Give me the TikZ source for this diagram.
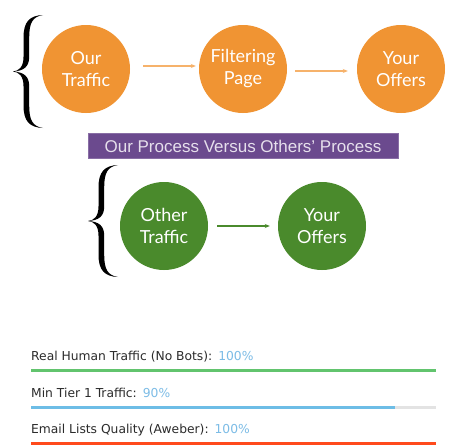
\documentclass[tikz,border=0pt]{standalone}
\usepackage{fontspec}
\setmainfont{Lato}
\newfontfamily\barfont{DejaVu Sans}
\newfontfamily\banfont{Liberation Sans}
\usetikzlibrary{arrows.meta}
\definecolor{orangec}{HTML}{F09433}
\definecolor{orangearr}{HTML}{F6B26B}
\definecolor{greenc}{HTML}{4A8A2C}
\definecolor{purpleb}{HTML}{6B4A8E}
\definecolor{bantext}{HTML}{E6DFEC}
\definecolor{bargreen}{HTML}{62C46E}
\definecolor{barblue}{HTML}{6DBDE6}
\definecolor{bargray}{HTML}{E3E3E3}
\definecolor{barred}{HTML}{FF4A1C}
\definecolor{pct}{HTML}{7CBCE6}
\definecolor{bartext}{HTML}{2B2B2B}
\tikzset{
  circ/.style={circle, minimum size=88pt, inner sep=0pt, text=white, align=center, font=\fontsize{18}{22}\selectfont},
  ocirc/.style={circ, fill=orangec},
  gcirc/.style={circ, fill=greenc},
  oarrow/.style={draw=orangearr, line width=1.2pt, -{Stealth[length=5pt,width=4pt]}},
  garrow/.style={draw=greenc, line width=1.2pt, -{Stealth[length=5pt,width=4pt]}},
  lbl/.style={anchor=base west, inner sep=0pt, font=\barfont\fontsize{12.3}{14}\selectfont, text=bartext},
  bar/.style={line width=3pt},
  bracefill/.style={fill=black},
}
% unit brace: x in [0,1] (0 = middle point, 1 = tips), y in [0,1] downwards
\newcommand{\mybrace}{%
  (1,0) .. controls (0.55,0.005) and (0.35,0.06) .. (0.35,0.2)
  -- (0.35,0.37)
  .. controls (0.35,0.46) and (0.2,0.495) .. (0,0.5)
  .. controls (0.2,0.505) and (0.35,0.54) .. (0.35,0.63)
  -- (0.35,0.8)
  .. controls (0.35,0.94) and (0.55,0.995) .. (1,1)
  .. controls (0.65,0.985) and (0.54,0.93) .. (0.54,0.8)
  -- (0.54,0.63)
  .. controls (0.54,0.54) and (0.35,0.505) .. (0,0.5)
  .. controls (0.35,0.495) and (0.54,0.46) .. (0.54,0.37)
  -- (0.54,0.2)
  .. controls (0.54,0.07) and (0.65,0.015) .. (1,0) -- cycle}
\begin{document}
\begin{tikzpicture}[x=1pt,y=-1pt]
\useasboundingbox[fill=white] (0,0) rectangle (462,447);
% top row
\node[ocirc] (o1) at (86,69) {Our\\Traffic};
\node[ocirc] (o2) at (243,69) {Filtering\\Page};
\node[ocirc] (o3) at (401,69) {Your\\Offers};
\draw[oarrow] ([xshift=13pt,yshift=3pt]o1.east) -- ([xshift=-3pt,yshift=3pt]o2.west);
\draw[oarrow] ([xshift=8pt,yshift=-2pt]o2.east) -- ([xshift=-9pt,yshift=-2pt]o3.west);
\begin{scope}[shift={(13,15)}, xscale=30, yscale=113]
  \fill[bracefill] \mybrace;
\end{scope}
% banner
\node[fill=purpleb, draw=purpleb!80!white, line width=0.6pt, minimum width=310pt, minimum height=25pt, inner sep=0pt, text=bantext, font=\banfont\fontsize{17}{19}\selectfont] (ban) at (243,146) {Our Process Versus Others’ Process};
% second row
\node[gcirc] (g1) at (164,226) {Other\\Traffic};
\node[gcirc] (g2) at (322,226) {Your\\Offers};
\draw[garrow] ([xshift=9pt]g1.east) -- ([xshift=-8pt]g2.west);
\begin{scope}[shift={(88,165)}, xscale=30, yscale=112]
  \fill[bracefill] \mybrace;
\end{scope}
% bars
\node[lbl] (t1) at (31,360) {Real Human Traffic (No Bots):\hspace{6pt}\textcolor{pct}{100\%}};
\coordinate (s1) at (31,370); \coordinate (e1) at (436,370);
\draw[bar, bargreen] (s1) -- (e1);
\node[lbl] (t2) at (31,397) {Min Tier 1 Traffic:\hspace{6pt}\textcolor{pct}{90\%}};
\coordinate (s2) at (31,407); \coordinate (m2) at (395,407); \coordinate (e2) at (436,407);
\draw[bar, bargray] (m2) -- (e2);
\draw[bar, barblue] (s2) -- (m2);
\node[lbl] (t3) at (31,433) {Email Lists Quality (Aweber):\hspace{6pt}\textcolor{pct}{100\%}};
\coordinate (s3) at (31,443); \coordinate (e3) at (436,443);
\draw[bar, barred] (s3) -- (e3);
\end{tikzpicture}
\end{document}
